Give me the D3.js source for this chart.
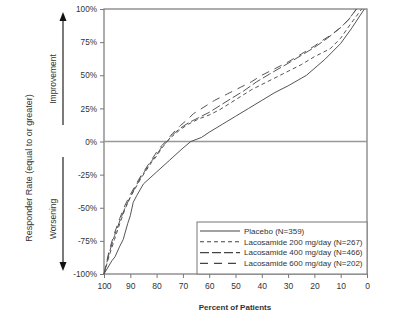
<!DOCTYPE html>
<html>
<head>
<meta charset="utf-8">
<script src="https://cdn.jsdelivr.net/npm/d3@7"></script>
<style>
  body { margin: 0; background: #fff; }
  text { font-family: "Liberation Sans", Arial, sans-serif; fill: #333; }
</style>
</head>
<body>
<script>
// percent of patients (x) / responder rate (y)
var placebo = [[100,-100],[97,-90],[95.8,-87],[94,-79],[92.7,-74],[91,-62],[90,-56],[88.9,-46],[87.6,-41],[85,-32],[80,-23],[75,-14],[70,-5],[67,0],
  [63,3],[60,7],[55,13],[50,19],[45,25],[40,31],[35,37],[30,42],[23,50],[16,62],[10,74],[6,85],[1,100]];
var laco200 = [[100,-100],[98,-86],[96,-74],[94,-62],[92,-51],[90,-42],[88,-35],[86,-28],[84,-22],[82,-16],[80,-11],[78,-5],[76,0],[74,4],[71,9],
  [68,13],[64,17],[60,20],[56,24],[52,29],[48,34],[44,39],[40,43],[35,48],[30,53],[25,58],[20,64],[14,70],[10,78],[6.5,88],[2,100]];
var laco400 = [[100,-100],[98,-84],[96,-71],[94,-60],[92,-50],[90,-42],[88,-34],[86,-27],[84,-21],[82,-15],[80,-10],[78,-4],[76,0],[74,5],[71,10],
  [68,14],[64,18],[60,22],[56,27],[52,32],[47,38],[42,45],[37,51],[30,59],[25,65],[20,71],[15,78],[10,86],[7,92],[4,100]];
var laco600 = [[100,-100],[98,-82],[96,-69],[94,-58],[92,-48],[90,-40],[88,-33],[86,-26],[84,-20],[82,-14],[80,-8],[78,-3],[76,1],[74,6],[71,12],
  [68,17],[66,21],[62,26],[58,31],[53,36],[48,41],[44,45],[40,50],[35,55],[30,60],[25,66],[20,72],[18,75],[14,80],[10,86],[7,92],[4,100]];

var seriesNames = ["Placebo (N=359)", "Lacosamide 200 mg/day (N=267)", "Lacosamide 400 mg/day (N=466)", "Lacosamide 600 mg/day (N=202)"];
var seriesDash = [null, "4,3", "9,3", "8,6"];
var yTicks = [-100, -75, -50, -25, 0, 25, 50, 75, 100];
var xTicks = [100, 90, 80, 70, 60, 50, 40, 30, 20, 10, 0];

var allSeries = [placebo, laco200, laco400, laco600];

var svg = d3.select("body").append("svg")
    .attr("width", 400)
    .attr("height", 313);

var x = d3.scaleLinear().domain([100, 0]).range([104, 367]),
    y = d3.scaleLinear().domain([-100, 100]).range([274, 9]);

// frame
svg.append("rect")
    .attr("x", x(100))
    .attr("y", y(100))
    .attr("width", x(0) - x(100))
    .attr("height", y(-100) - y(100))
    .attr("fill", "none")
    .attr("stroke", "#777")
    .attr("stroke-width", 1.2);

// zero line
svg.append("line")
    .attr("x1", x(100)).attr("x2", x(0))
    .attr("y1", y(0)).attr("y2", y(0))
    .attr("stroke", "#999")
    .attr("stroke-width", 1.3);

var yAxis = svg.append("g")
    .attr("transform", "translate(" + x(100) + ",0)")
    .call(d3.axisLeft(y).tickValues(yTicks).tickSize(4).tickPadding(3).tickFormat(function(d) { return d + "%"; }));
yAxis.select(".domain").remove();
yAxis.selectAll("line").attr("stroke", "#777");
yAxis.selectAll("text").attr("font-size", "8.2px").attr("fill", "#444");

var xAxis = svg.append("g")
    .attr("transform", "translate(0," + y(-100) + ")")
    .call(d3.axisBottom(x).tickValues(xTicks).tickSize(4).tickPadding(5));
xAxis.select(".domain").remove();
xAxis.selectAll("line").attr("stroke", "#777");
xAxis.selectAll("text").attr("font-size", "8.5px").attr("fill", "#444");

// curves
var line = d3.line()
    .x(function(d) { return x(d[0]); })
    .y(function(d) { return y(d[1]); });

svg.selectAll(".curve")
    .data(allSeries)
    .enter().append("path")
    .attr("class", "curve")
    .attr("d", line)
    .attr("fill", "none")
    .attr("stroke", "#555")
    .attr("stroke-width", 1)
    .attr("stroke-dasharray", function(d, i) { return seriesDash[i]; });

// legend
var legend = svg.append("g");
legend.append("rect")
    .attr("x", 197).attr("y", 222)
    .attr("width", x(0) - 197).attr("height", y(-100) - 222)
    .attr("fill", "#fff")
    .attr("stroke", "#777")
    .attr("stroke-width", 1);
var item = legend.selectAll(".item")
    .data(seriesNames)
    .enter().append("g")
    .attr("transform", function(d, i) { return "translate(200," + (231 + i * 10.8) + ")"; });
item.append("line")
    .attr("x1", 0).attr("x2", 40)
    .attr("stroke", "#444")
    .attr("stroke-width", 1.1)
    .attr("stroke-dasharray", function(d, i) { return seriesDash[i]; });
item.append("text")
    .attr("x", 44)
    .attr("dy", "0.35em")
    .attr("font-size", "8px")
    .attr("fill", "#444")
    .text(function(d) { return d; });

// axis titles
svg.append("text")
    .attr("x", 235).attr("y", 310)
    .attr("text-anchor", "middle")
    .attr("font-size", "8px")
    .attr("font-weight", "bold")
    .attr("fill", "#333")
    .text("Percent of Patients");

svg.append("text")
    .attr("transform", "translate(32,168) rotate(-90)")
    .attr("text-anchor", "middle")
    .attr("font-size", "9px")
    .attr("fill", "#333")
    .text("Responder Rate (equal to or greater)");

svg.append("text")
    .attr("transform", "translate(56,79) rotate(-90)")
    .attr("text-anchor", "middle")
    .attr("font-size", "8.5px")
    .attr("fill", "#333")
    .text("Improvement");

svg.append("text")
    .attr("transform", "translate(56,219) rotate(-90)")
    .attr("text-anchor", "middle")
    .attr("font-size", "8.5px")
    .attr("fill", "#333")
    .text("Worsening");

// arrows
svg.append("line")
    .attr("x1", 63).attr("x2", 63).attr("y1", 125).attr("y2", 19)
    .attr("stroke", "#222").attr("stroke-width", 1.2);
svg.append("path")
    .attr("d", "M63,12 L59.5,21 L66.5,21 Z")
    .attr("fill", "#111");
svg.append("line")
    .attr("x1", 63).attr("x2", 63).attr("y1", 157).attr("y2", 264)
    .attr("stroke", "#222").attr("stroke-width", 1.2);
svg.append("path")
    .attr("d", "M63,271 L59.5,262 L66.5,262 Z")
    .attr("fill", "#111");
</script>
</body>
</html>
